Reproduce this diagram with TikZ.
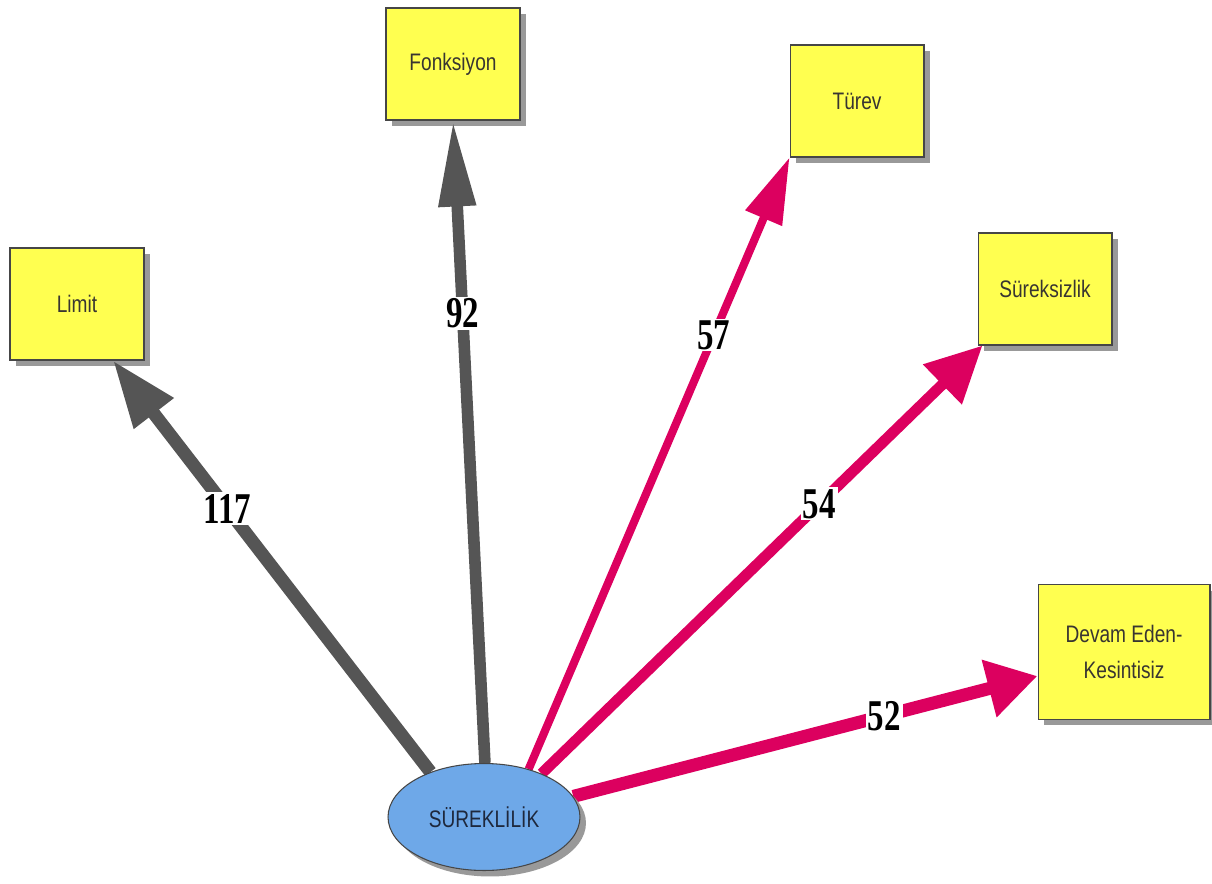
\documentclass[tikz,border=0pt]{standalone}
\usepackage{fontspec}
\usepackage{graphicx}
\usetikzlibrary{arrows.meta, shadows, shapes.geometric}

\newfontfamily\boxfont{Liberation Sans}
\newfontfamily\numfont{Liberation Serif}
\newcommand{\narrow}[1]{\scalebox{0.8}[1]{#1}}
\newcommand{\tall}[1]{\scalebox{0.75}[1]{#1}}

\definecolor{boxyellow}{RGB}{255,255,80}
\definecolor{ellblue}{RGB}{110,168,232}
\definecolor{elltext}{RGB}{30,40,60}
\definecolor{linkgray}{RGB}{85,85,85}
\definecolor{linkpink}{RGB}{220,0,95}
\definecolor{edgegray}{RGB}{70,70,70}

\pgfdeclarelayer{front}
\pgfsetlayers{main,front}

\tikzset{
  topic/.style={draw=edgegray, line width=0.6pt, fill=boxyellow,
    minimum width=2.68cm, minimum height=2.24cm, inner sep=0pt, align=center,
    text=black!90!yellow, font=\boxfont\fontsize{13.6}{20}\selectfont,
    drop shadow={shadow xshift=0.12cm, shadow yshift=-0.12cm, fill=black!40, opacity=1}},
  core/.style={ellipse, draw=edgegray, line width=0.6pt, fill=ellblue,
    minimum width=3.84cm, minimum height=2.14cm, inner sep=0pt,
    text=elltext, font=\boxfont\fontsize{13.6}{20}\selectfont,
    drop shadow={shadow xshift=0.12cm, shadow yshift=-0.12cm, fill=black!40, opacity=1}},
  grayline/.style={draw=linkgray, fill=linkgray},
  pinkline/.style={draw=linkpink, fill=linkpink},
  count/.style={fill=white, inner sep=1pt, text=black,
    font=\numfont\bfseries\fontsize{25}{25}\selectfont},
}

\begin{document}
\begin{tikzpicture}[x=0.02cm, y=-0.02cm]

    \useasboundingbox (0,0) rectangle (1212,884);

    \node[topic] (limit) at (77,304) {\narrow{Limit}};
    \node[topic] (fonk) at (453,64) {\narrow{Fonksiyon}};
    \node[topic] (turev) at (857,101) {\narrow{Türev}};
    \node[topic] (sureksiz) at (1045,289) {\narrow{Süreksizlik}};
    \node[topic, minimum width=3.44cm, minimum height=2.7cm] (devam) at (1124,652)
        {\narrow{Devam Eden-}\\\narrow{Kesintisiz}};

    \begin{pgfonlayer}{front}
    \node[core] (sur) at (484,817) {\narrow{SÜREKLİLİK}};
    \end{pgfonlayer}

    \draw[grayline, line width=7.4pt, -{Triangle[length=1.34cm, width=0.94cm]}]
        (sur.140) -- ([xshift=0.72cm]limit.south) node[count, pos=0.64] {\tall{117}};
    \draw[grayline, line width=6.6pt, -{Triangle[length=1.72cm, width=0.7cm]}]
        (sur.89) -- (fonk.south) node[count, pos=0.7] {\tall{92}};
    \draw[pinkline, line width=4.6pt, -{Triangle[length=1.32cm, width=0.76cm]}]
        (sur.47) -- (turev.south west) node[count, pos=0.71] {\tall{57}};
    \draw[pinkline, line width=6.2pt, -{Triangle[length=1.12cm, width=1.06cm]}]
        (sur.37) -- ([xshift=0.1cm]sureksiz.south west) node[count, pos=0.63] {\tall{54}};
    \draw[pinkline, line width=7.4pt, -{Triangle[length=1cm, width=1.12cm]}]
        (sur.13) -- ([yshift=-0.48cm]devam.west) node[count, pos=0.67] {\tall{52}};

\end{tikzpicture}
\end{document}
